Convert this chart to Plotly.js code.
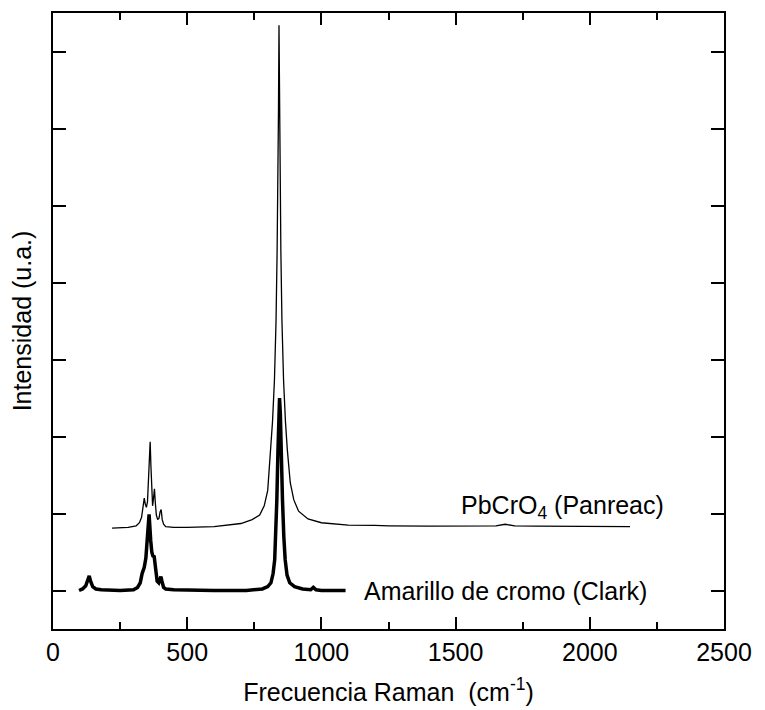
<!DOCTYPE html>
<html>
<head>
<meta charset="utf-8">
<script src="https://cdn.plot.ly/plotly-3.0.1.min.js"></script>
<style>html,body{margin:0;padding:0;background:#fff;}#chart{width:765px;height:710px;}</style>
</head>
<body>
<div id="chart"></div>
<script>
// Raman spectra (intensity in axis units)
const panreacX = [220, 280, 310, 322, 330, 335, 340, 344, 348, 352, 356, 359, 362, 365, 368, 371, 374, 378, 381, 385, 390, 395, 399, 403, 407, 412, 420, 450, 500, 600, 700, 742, 770, 787, 800, 811, 818, 825, 831, 835, 838, 840, 842, 844, 846, 849, 853, 859, 866, 873, 884, 897, 915, 950, 1000, 1100, 1200, 1250, 1400, 1600, 1650, 1685, 1720, 1800, 2000, 2150];
const panreacY = [0.81, 0.82, 0.84, 0.88, 0.95, 1.05, 1.20, 1.12, 1.08, 1.15, 1.40, 1.75, 1.93, 1.60, 1.20, 1.10, 1.18, 1.32, 1.15, 0.98, 0.92, 0.94, 1.02, 1.05, 0.92, 0.86, 0.83, 0.82, 0.82, 0.83, 0.87, 0.92, 0.98, 1.10, 1.30, 1.83, 2.20, 2.73, 3.5, 4.4, 5.3, 6.2, 7.34, 6.2, 5.3, 4.4, 3.5, 2.73, 2.20, 1.83, 1.40, 1.18, 1.03, 0.93, 0.88, 0.85, 0.845, 0.84, 0.835, 0.835, 0.84, 0.86, 0.84, 0.835, 0.83, 0.83];

const clarkX = [97, 110, 122, 130, 135, 140, 148, 160, 180, 250, 300, 315, 325, 332, 340, 346, 351, 355, 358, 361, 364, 368, 372, 377, 382, 388, 394, 399, 402, 406, 412, 420, 450, 600, 720, 780, 800, 812, 820, 826, 830, 834, 838, 841, 844, 847, 850, 855, 860, 865, 872, 882, 900, 930, 960, 970, 980, 1000, 1090];
const clarkY = [0.0, 0.02, 0.06, 0.14, 0.19, 0.12, 0.05, 0.02, 0.01, 0.0, 0.01, 0.04, 0.10, 0.22, 0.30, 0.42, 0.60, 0.85, 0.99, 0.88, 0.65, 0.50, 0.45, 0.44, 0.30, 0.12, 0.10, 0.17, 0.18, 0.12, 0.04, 0.02, 0.01, 0.0, 0.0, 0.02, 0.05, 0.10, 0.22, 0.40, 0.70, 1.18, 1.8, 2.3, 2.5, 2.3, 1.8, 1.18, 0.70, 0.40, 0.20, 0.10, 0.05, 0.02, 0.01, 0.04, 0.01, 0.0, 0.0];

const seriesNames = ["PbCrO<sub>4</sub> (Panreac)", "Amarillo de cromo (Clark)"];
const xTickVals = [0, 500, 1000, 1500, 2000, 2500];
const yTickVals = [0, 1, 2, 3, 4, 5, 6, 7];

const font = "Liberation Sans, Arial, Helvetica, sans-serif";

const traces = [
  {x: panreacX, y: panreacY, mode: "lines", line: {color: "#000", width: 1.3}, name: seriesNames[0], hoverinfo: "skip"},
  {x: clarkX, y: clarkY, mode: "lines", line: {color: "#000", width: 3.5}, name: seriesNames[1], hoverinfo: "skip"}
];

const layout = {
  width: 765, height: 710,
  margin: {l: 53, r: 41, t: 13, b: 81},
  paper_bgcolor: "#fff", plot_bgcolor: "#fff",
  showlegend: false,
  font: {family: font, size: 25, color: "#000"},
  xaxis: {
    range: [0, 2500], tickvals: xTickVals, ticktext: xTickVals.map(String),
    ticks: "inside", ticklen: 12, tickwidth: 2, tickcolor: "#000",
    minor: {dtick: 250, tick0: 0, ticks: "inside", ticklen: 7, tickwidth: 2, tickcolor: "#000"},
    showline: true, linewidth: 2, linecolor: "#000", mirror: "ticks",
    showgrid: false, zeroline: false,
    tickfont: {family: font, size: 25, color: "#000"},
    title: {text: "Frecuencia Raman  (cm<sup>-1</sup>)", font: {family: font, size: 25, color: "#000"}, standoff: 18}
  },
  yaxis: {
    range: [-0.5, 7.5], tickvals: yTickVals, showticklabels: false,
    ticks: "inside", ticklen: 13, tickwidth: 2, tickcolor: "#000",
    showline: true, linewidth: 2, linecolor: "#000", mirror: "ticks",
    showgrid: false, zeroline: false,
    title: {text: "Intensidad (u.a.)", font: {family: font, size: 25, color: "#000"}, standoff: 12}
  },
  annotations: [
    {x: 1511, y: 1.08, xref: "x", yref: "y", text: seriesNames[0], showarrow: false, xanchor: "left", yanchor: "middle", font: {family: font, size: 25, color: "#000"}},
    {x: 1153, y: 0.0, xref: "x", yref: "y", text: seriesNames[1], showarrow: false, xanchor: "left", yanchor: "middle", font: {family: font, size: 25, color: "#000"}}
  ]
};

Plotly.newPlot("chart", traces, layout, {staticPlot: true, displayModeBar: false});
</script>
</body>
</html>
